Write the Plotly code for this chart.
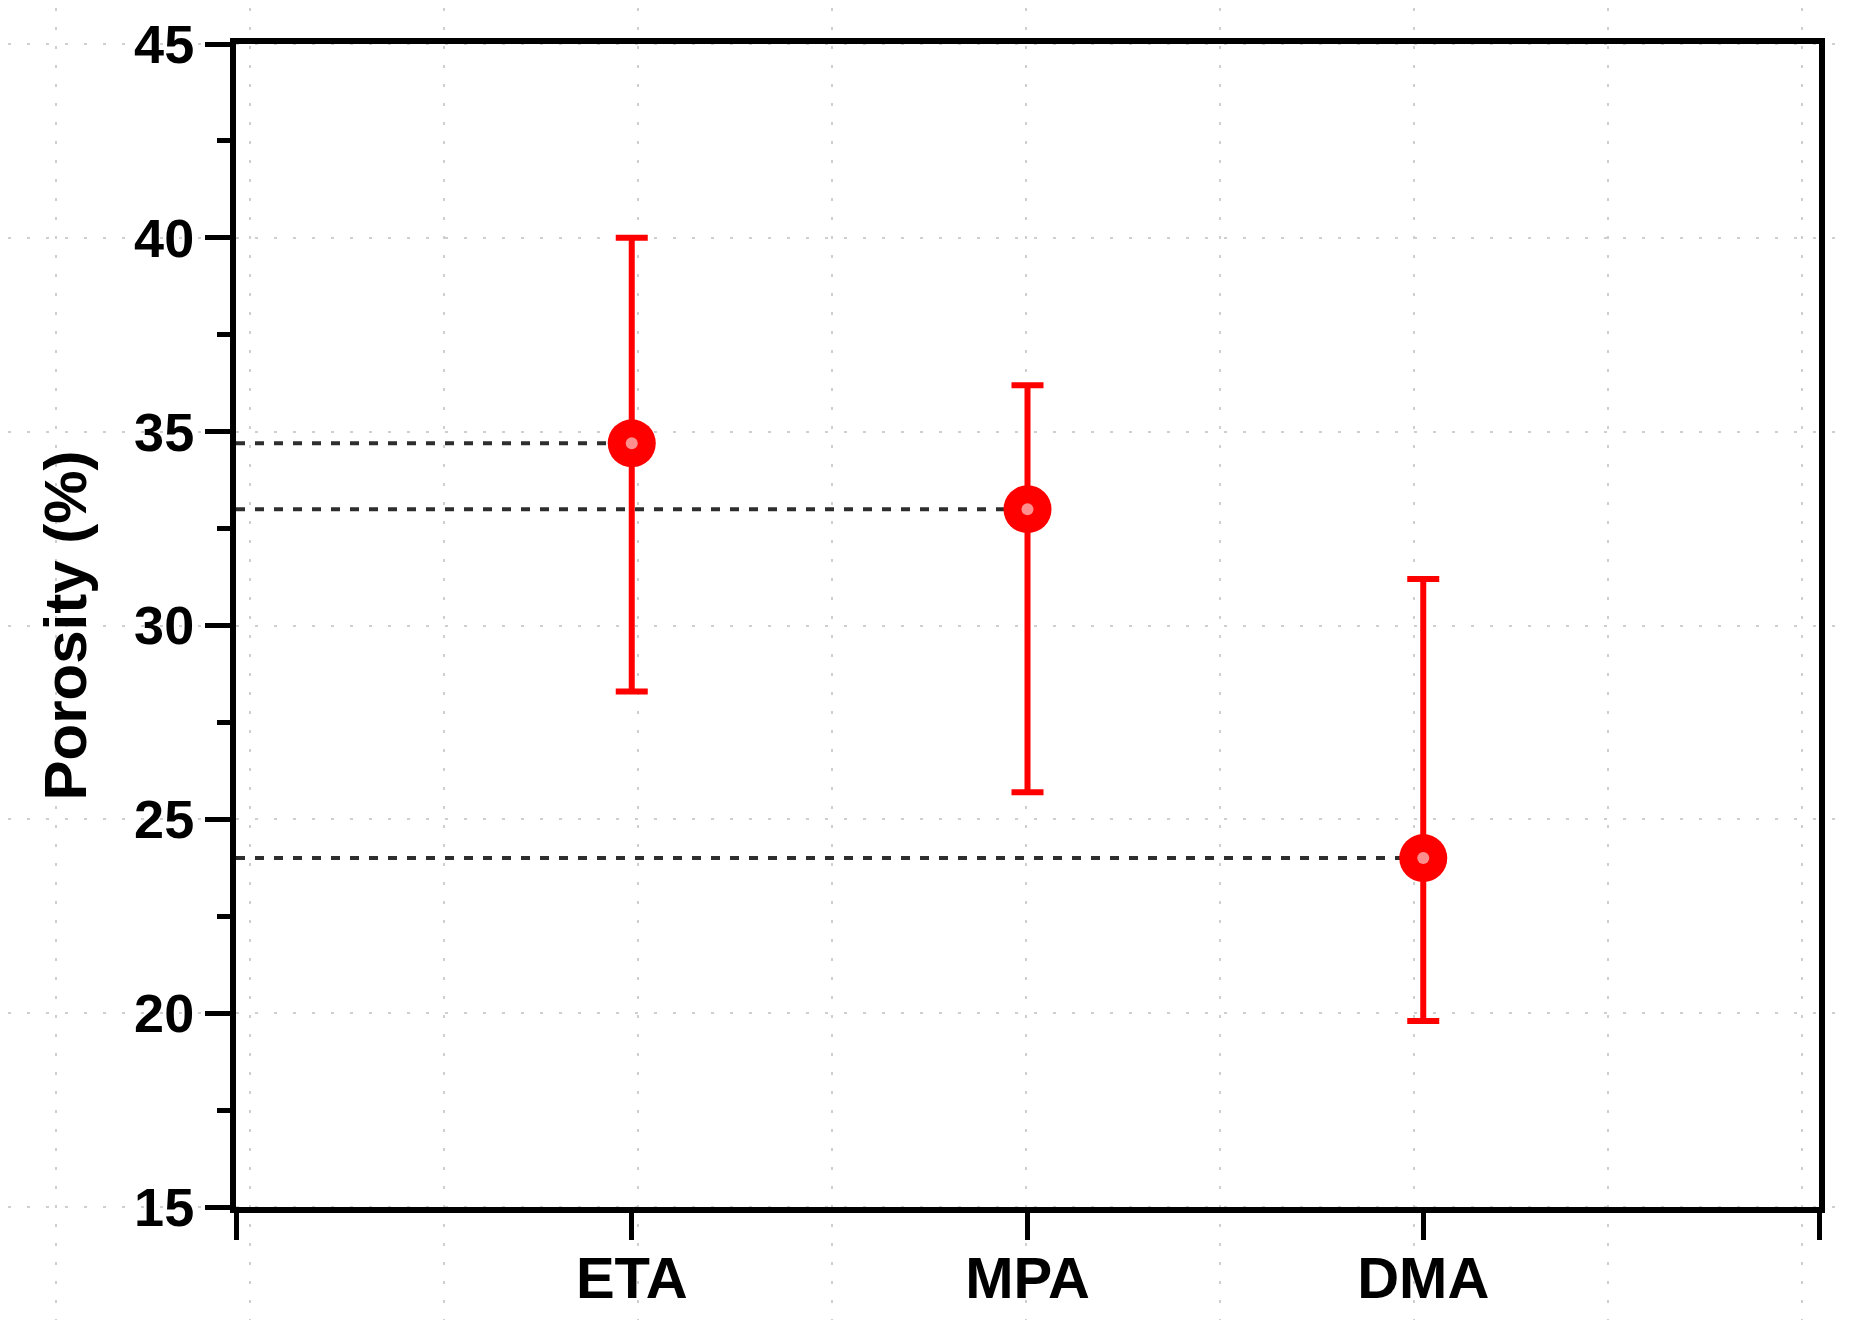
import plotly.graph_objects as go

# ---- data ----
categories = ["ETA", "MPA", "DMA"]
porosity = [34.7, 33.0, 24.0]
upper = [40.0, 36.2, 31.2]
lower = [28.3, 25.7, 19.8]
y_ticks = [15, 20, 25, 30, 35, 40, 45]

# ---- layout geometry (pixels, page coordinates) ----
OFF = 8                      # default body margin of the html page
W, H = 1852 - OFF, 1320 - OFF
PL, PR, PT, PB = 236 - OFF, 1819 - OFF, 44 - OFF, 1207 - OFF
Y0, Y1 = 15, 45
X0, X1 = 0, len(categories) + 1

x_pos = list(range(1, len(categories) + 1))
err_plus = [u - v for u, v in zip(upper, porosity)]
err_minus = [v - l for v, l in zip(porosity, lower)]

FONT = "Arial, 'Liberation Sans', Helvetica, sans-serif"
RED = "#ff0000"

fig = go.Figure()


def ypix_to_val(p):
    return Y1 - (p - PT) * (Y1 - Y0) / (PB - PT)


# background dotted grid (whole picture) on first axis pair
fig.add_trace(go.Scatter(x=[None], y=[None], xaxis="x", yaxis="y",
                         showlegend=False, hoverinfo="skip"))

# dashed guide lines from left axis to each point
for xp, v in zip(x_pos, porosity):
    fig.add_trace(go.Scatter(
        x=[X0, xp], y=[v, v], mode="lines", xaxis="x2", yaxis="y2",
        line=dict(color="#2e2e2e", width=4, dash="9px,10px"),
        showlegend=False, hoverinfo="skip"))

# points with error bars
fig.add_trace(go.Scatter(
    x=x_pos, y=porosity, mode="markers", xaxis="x2", yaxis="y2",
    marker=dict(size=48, color=RED, line=dict(width=0)),
    error_y=dict(type="data", symmetric=False, array=err_plus,
                 arrayminus=err_minus, color=RED, thickness=6, width=16),
    showlegend=False))

# soft specular highlight
fig.add_trace(go.Scatter(
    x=x_pos, y=porosity, mode="markers", xaxis="x2", yaxis="y2",
    marker=dict(size=12, color="rgba(255,190,190,0.75)", line=dict(width=0)),
    showlegend=False, hoverinfo="skip"))

fig.update_layout(
    template="none",
    width=W, height=H,
    margin=dict(l=0, r=0, t=0, b=0, pad=0, autoexpand=False),
    paper_bgcolor="white",
    plot_bgcolor="rgba(0,0,0,0)",
    font=dict(family=FONT, color="black"),
    showlegend=False,
    xaxis=dict(domain=[0, 1], range=[-OFF, W - OFF], tick0=40, dtick=194,
               showgrid=True, gridcolor="#cfcfcf", gridwidth=2,
               griddash="3px,16px", zeroline=False, showline=False,
               showticklabels=False, ticks="", automargin=False),
    yaxis=dict(domain=[0, 1], range=[ypix_to_val(H), ypix_to_val(0)],
               tick0=0, dtick=5,
               showgrid=True, gridcolor="#cfcfcf", gridwidth=2,
               griddash="3px,16px", zeroline=False, showline=False,
               showticklabels=False, ticks="", automargin=False),
    xaxis2=dict(domain=[PL / W, PR / W], anchor="y2",
                range=[X0, X1], tickmode="array",
                tickvals=list(range(X0, X1 + 1)),
                ticktext=[""] + categories + [""],
                ticks="outside", ticklen=27, tickwidth=5, tickcolor="black",
                ticklabelstandoff=-12,
                showline=True, linewidth=6, linecolor="black", mirror=True,
                showgrid=False, zeroline=False, automargin=False,
                tickfont=dict(size=58, family=FONT, weight="bold",
                              color="black")),
    yaxis2=dict(domain=[1 - PB / H, 1 - PT / H], anchor="x2",
                range=[Y0, Y1], tickmode="array", tickvals=y_ticks,
                ticks="outside", ticklen=25, tickwidth=5, tickcolor="black",
                minor=dict(dtick=2.5, ticks="outside", ticklen=13,
                           tickwidth=5, tickcolor="black", showgrid=False),
                showline=True, linewidth=6, linecolor="black", mirror=True,
                showgrid=False, zeroline=False, automargin=False,
                tickfont=dict(size=54, family=FONT, weight="bold",
                              color="black"),
                title=dict(text="Porosity (%)", standoff=30,
                           font=dict(size=60, family=FONT, weight="bold",
                                     color="black"))),
)

fig.write_html("out.html")
